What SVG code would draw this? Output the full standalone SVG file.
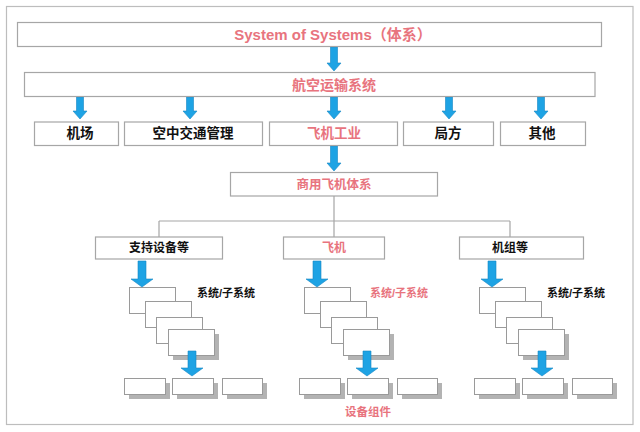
<svg xmlns="http://www.w3.org/2000/svg" width="640" height="432" viewBox="0 0 640 432">
<style>
.frame{fill:#fff;stroke:#bdbdbd;stroke-width:1.2}
.box{fill:#fff;stroke:#a6a6a6;stroke-width:1.2}
.sbox{fill:#fff;stroke:#9a9a9a;stroke-width:1}
.shadow{fill:#b3b3b3}
.arrow{fill:#1ea3e4;stroke:#1686c4;stroke-width:0.6}
.line{fill:none;stroke:#a6a6a6;stroke-width:1.2}
text{font-family:"Liberation Sans","Noto Sans CJK SC",sans-serif;font-weight:bold;text-anchor:middle;dominant-baseline:central}
.pink{fill:#e8747e}
.black{fill:#111}
</style>
<rect width="640" height="432" fill="#fff"/>
<rect class="frame" x="6.5" y="6.5" width="626.5" height="418"/>

<g id="connectors">
<path class="line" d="M334 196V221M159 221H510M159 221V237M334 221V237M510 221V237"/>
<polygon class="arrow" points="330.5,47 337.5,47 337.5,63 341,63 334,71 327,63 330.5,63"/>
<polygon class="arrow" points="76.5,97 83.5,97 83.5,111 87,111 80,119 73,111 76.5,111"/>
<polygon class="arrow" points="186.5,97 193.5,97 193.5,111 197,111 190,119 183,111 186.5,111"/>
<polygon class="arrow" points="330.5,97 337.5,97 337.5,111 341,111 334,119 327,111 330.5,111"/>
<polygon class="arrow" points="445.5,97 452.5,97 452.5,111 456,111 449,119 442,111 445.5,111"/>
<polygon class="arrow" points="537.5,97 544.5,97 544.5,111 548,111 541,119 534,111 537.5,111"/>
<polygon class="arrow" points="330.5,146 337.5,146 337.5,163 341,163 334,171 327,163 330.5,163"/>
</g>

<g id="n-sos">
<rect class="box" x="17.5" y="22.5" width="584" height="24"/>
<text class="pink" x="333" y="34.5" font-size="15">System of Systems（体系）</text>
</g>
<g id="n-ats">
<rect class="box" x="24.5" y="72.5" width="570.5" height="24"/>
<text class="pink" x="334" y="84.5" font-size="14">航空运输系统</text>
</g>
<g id="n-airport">
<rect class="box" x="34.5" y="122" width="84" height="23.5"/>
<text class="black" x="80" y="133.5" font-size="13.5">机场</text>
</g>
<g id="n-atm">
<rect class="box" x="124.5" y="122" width="138" height="23.5"/>
<text class="black" x="193" y="133.5" font-size="13.5">空中交通管理</text>
</g>
<g id="n-industry">
<rect class="box" x="269.5" y="122" width="128" height="23.5"/>
<text class="pink" x="334" y="133.5" font-size="13.5">飞机工业</text>
</g>
<g id="n-authority">
<rect class="box" x="403.5" y="122" width="90" height="23.5"/>
<text class="black" x="448" y="133.5" font-size="13.5">局方</text>
</g>
<g id="n-other">
<rect class="box" x="500.5" y="122" width="85" height="23.5"/>
<text class="black" x="542" y="133.5" font-size="13.5">其他</text>
</g>
<g id="n-commercial">
<rect class="box" x="230.5" y="172.5" width="207" height="23.5"/>
<text class="pink" x="334" y="184.5" font-size="12.5">商用飞机体系</text>
</g>
<g id="n-support">
<rect class="box" x="95.5" y="237" width="127" height="22"/>
<text class="black" x="159" y="248" font-size="12">支持设备等</text>
</g>
<g id="n-aircraft">
<rect class="box" x="283.5" y="237" width="101" height="22"/>
<text class="pink" x="334" y="248" font-size="12">飞机</text>
</g>
<g id="n-crew">
<rect class="box" x="459.5" y="237" width="124" height="22"/>
<text class="black" x="510" y="248" font-size="12">机组等</text>
</g>

<defs>
<g id="stack">
<rect class="sbox" x="0.5" y="0.5" width="46" height="26"/>
<rect class="sbox" x="16.5" y="14.5" width="46" height="26"/>
<rect class="sbox" x="27.5" y="30.5" width="46" height="26"/>
<rect class="shadow" x="44" y="47" width="46" height="26"/>
<rect class="sbox" x="39.5" y="42.5" width="46" height="26"/>
<rect class="shadow" x="0" y="96" width="41" height="16"/>
<rect class="sbox" x="-4.5" y="91.5" width="41" height="16"/>
<rect class="shadow" x="48" y="96" width="41" height="16"/>
<rect class="sbox" x="43.5" y="91.5" width="41" height="16"/>
<rect class="shadow" x="98" y="96" width="40" height="16"/>
<rect class="sbox" x="93.5" y="91.5" width="40" height="16"/>
<polygon class="arrow" points="9,-26 17,-26 17,-8 24,-8 13,0 2,-8 9,-8"/>
<polygon class="arrow" points="59,64 67,64 67,81 74,81 63,89 52,81 59,81"/>
</g>
</defs>

<g id="g-support">
<use href="#stack" x="129" y="287"/>
<text class="black" x="226" y="293" font-size="11">系统/子系统</text>
</g>
<g id="g-aircraft">
<use href="#stack" x="304" y="287"/>
<text class="pink" x="399" y="293" font-size="11">系统/子系统</text>
<text class="pink" x="368" y="412" font-size="11.5">设备组件</text>
</g>
<g id="g-crew">
<use href="#stack" x="479" y="287"/>
<text class="black" x="576" y="293" font-size="11">系统/子系统</text>
</g>
</svg>
